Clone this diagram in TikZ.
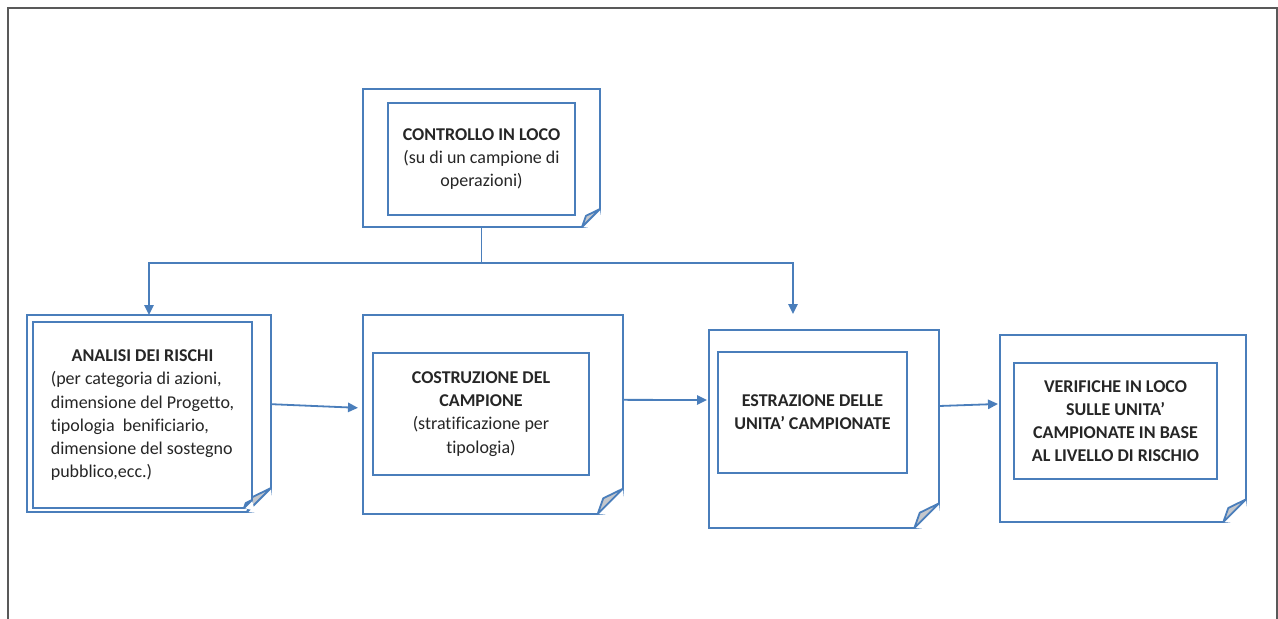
\documentclass[tikz,border=0pt]{standalone}
\usepackage{fontspec}
\setmainfont{Carlito}[Ligatures={TeX,NoCommon}]
\usepackage{tikz}
\usetikzlibrary{arrows.meta,positioning,calc}
\definecolor{blu}{RGB}{74,126,187}
\definecolor{grigiopiega}{RGB}{196,199,204}
\tikzset{
bordo/.style={draw=blu,line width=1.35pt},
foglio/.style={bordo,fill=white,rectangle,outer sep=0pt,inner sep=0pt},
riquadro/.style={bordo,fill=white,rectangle,outer sep=0pt,inner sep=0pt,align=center,text=black!85,font=\fontsize{13.5}{17.4}\selectfont},
freccia/.style={draw=blu,line width=1.35pt,-{Triangle[length=7.5pt,width=7pt]}},
cornice/.style={draw=black!65,line width=1.6pt}
}
% angolo piegato in basso a destra: nodo, lato
\newcommand\piega[2]{
\fill[white] ([xshift=-#2]#1.south east) -- ([xshift=2pt,yshift=-2pt]#1.south east) -- ([yshift=#2]#1.south east) -- cycle;
\filldraw[bordo,fill=grigiopiega,line join=round] ([yshift=#2]#1.south east) -- ([xshift=-#2]#1.south east) -- ([xshift=-0.78*#2,yshift=0.62*#2]#1.south east) -- cycle;}

\begin{document}
\begin{tikzpicture}[x=0.75pt,y=-0.75pt]
\useasboundingbox (0,0) rectangle (1278,618);
\draw[cornice] (8,620) -- (8,8) -- (1277,8) -- (1277,620);
% controllo in loco
\node[foglio,minimum width=177.75pt,minimum height=103.5pt] (controllo) at (481.5,158) {};
\piega{controllo}{13.5pt}
\node[riquadro,minimum width=140.25pt,minimum height=84pt] (controlloTxt) at (481.5,159)
 {\textbf{CONTROLLO IN LOCO}\\(su di un campione di\\operazioni)};
% analisi dei rischi
\node[foglio,minimum width=183pt,minimum height=147.75pt] (analisiRetro) at (149,413.5) {};
\piega{analisiRetro}{18pt}
\node[riquadro,minimum width=164.25pt,minimum height=139.5pt] (analisi) at (142.5,415)
 {\begin{tabular}{@{}l@{}}\multicolumn{1}{@{}c@{}}{\textbf{ANALISI DEI RISCHI}}\\
 (per categoria di azioni,\\dimensione del Progetto,\\tipologia\ \ benificiario,\\
 dimensione del sostegno\\pubblico,ecc.)\end{tabular}};
\piega{analisi}{6pt}
% costruzione del campione
\node[foglio,minimum width=195pt,minimum height=149.25pt] (costruzione) at (493,414.5) {};
\piega{costruzione}{19pt}
\node[riquadro,minimum width=162pt,minimum height=91.5pt] (costruzioneTxt) at (481,414)
 {\textbf{COSTRUZIONE DEL}\\\textbf{CAMPIONE}\\(stratificazione per\\tipologia)};
% estrazione
\node[foglio,minimum width=172.5pt,minimum height=148.5pt] (estrazione) at (824,429) {};
\piega{estrazione}{18.5pt}
\node[riquadro,minimum width=141.75pt,minimum height=90.75pt] (estrazioneTxt) at (812.5,412.5)
 {\textbf{ESTRAZIONE DELLE}\\\textbf{UNITA' CAMPIONATE}};
% verifiche
\node[foglio,minimum width=184.5pt,minimum height=140.25pt] (verifiche) at (1123,428.5) {};
\piega{verifiche}{17pt}
\node[riquadro,minimum width=152.25pt,minimum height=87pt] (verificheTxt) at (1115.5,421)
 {\textbf{VERIFICHE IN LOCO}\\\textbf{SULLE UNITA'}\\\textbf{CAMPIONATE IN BASE}\\\textbf{AL LIVELLO DI RISCHIO}};
% collegamenti
\coordinate (snodo) at (481.5,263);
\coordinate (puntaEstr) at (793,314);
\draw[bordo] (controllo.south) -- (snodo);
\draw[freccia] (snodo) -| (analisiRetro.north);
\draw[freccia] (snodo) -| (puntaEstr);
\draw[freccia] ([yshift=7pt]analisiRetro.east) -- ([xshift=-3.75pt,yshift=5pt]costruzione.west);
\draw[freccia] ([yshift=11pt]costruzione.east) -- ([xshift=-1.5pt,yshift=21.75pt]estrazione.west);
\draw[freccia] ([yshift=17.25pt]estrazione.east) -- ([xshift=-1.5pt,yshift=18.4pt]verifiche.west);
\end{tikzpicture}
\end{document}
